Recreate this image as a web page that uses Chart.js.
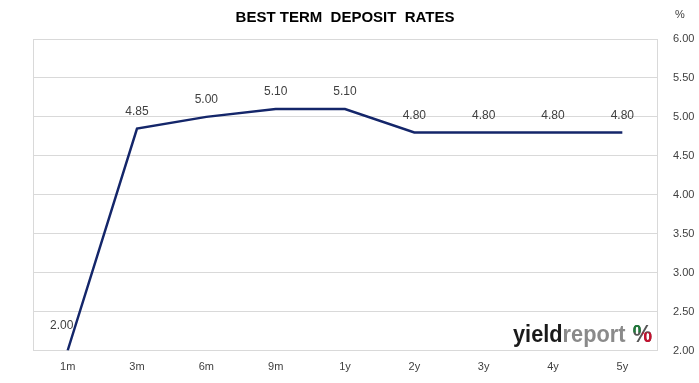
<!DOCTYPE html>
<html>
<head>
<meta charset="utf-8">
<script src="https://cdn.jsdelivr.net/npm/chart.js@4/dist/chart.umd.min.js"></script>
<style>
  html, body { margin: 0; padding: 0; background: #fff; }
  #wrap { width: 699px; height: 383px; position: relative; }
</style>
</head>
<body>
<div id="wrap"><canvas id="c" width="699" height="383"></canvas></div>
<script>
const categories = ['1m', '3m', '6m', '9m', '1y', '2y', '3y', '4y', '5y'];
const rates = [2.00, 4.85, 5.00, 5.10, 5.10, 4.80, 4.80, 4.80, 4.80];
const yTicks = [2.00, 2.50, 3.00, 3.50, 4.00, 4.50, 5.00, 5.50, 6.00];
const titleText = 'BEST TERM  DEPOSIT  RATES';
const unitText = '%';

const FONT = '"Liberation Sans", Arial, sans-serif';
const TEXT = '#404040';
const GRID = '#d9d9d9';
const LINE = '#14266a';

const decor = {
  id: 'decor',
  beforeDatasetsDraw(chart) {
    const { ctx, chartArea: a } = chart;
    ctx.save();
    ctx.strokeStyle = GRID;
    ctx.lineWidth = 1;
    ctx.beginPath();
    ctx.moveTo(Math.round(a.left) + 0.5, a.top);
    ctx.lineTo(Math.round(a.left) + 0.5, a.bottom);
    ctx.stroke();
    ctx.restore();
  },
  afterDatasetsDraw(chart) {
    const { ctx, chartArea: a } = chart;
    const meta = chart.getDatasetMeta(0);
    ctx.save();
    ctx.font = '12px ' + FONT;
    ctx.fillStyle = TEXT;
    ctx.textAlign = 'center';
    ctx.textBaseline = 'middle';
    meta.data.forEach((pt, i) => {
      let x = pt.x, y = pt.y - 17;
      if (i === 0) { x -= 6; y = pt.y - 25; }
      ctx.fillText(rates[i].toFixed(2), x, y);
    });
    // title
    ctx.font = 'bold 15px ' + FONT;
    ctx.fillStyle = '#000';
    ctx.fillText(titleText, 345, 18);
    // unit
    ctx.font = '11px ' + FONT;
    ctx.fillStyle = TEXT;
    ctx.fillText(unitText, 680, 15);

    // logo
    const base = a.bottom - 9;
    const right = a.right - 5;
    const targetW = 139;
    ctx.textBaseline = 'alphabetic';
    ctx.textAlign = 'left';
    ctx.font = 'bold 24px ' + FONT;
    const wY = ctx.measureText('yield').width;
    const wR = ctx.measureText('report').width;
    const wP = ctx.measureText('%').width;
    const gap = 8;
    const total = wY + wR + gap + wP;
    const sx = targetW / total;
    ctx.translate(right - targetW, base);
    ctx.scale(sx, 1);
    ctx.fillStyle = '#1a1a1a';
    ctx.fillText('yield', 0, 0);
    ctx.fillStyle = '#8a8a8a';
    ctx.fillText('report', wY, 0);
    const px = wY + wR + gap;
    ctx.fillStyle = '#555';
    ctx.fillText('%', px, 0);
    ctx.save();
    ctx.beginPath();
    ctx.rect(px - 1, -20, wP * 0.5, 11);
    ctx.clip();
    ctx.fillStyle = '#1e7a3a';
    ctx.fillText('%', px, 0);
    ctx.restore();
    ctx.save();
    ctx.beginPath();
    ctx.rect(px + wP * 0.5, -9, wP * 0.6, 12);
    ctx.clip();
    ctx.fillStyle = '#c8102e';
    ctx.fillText('%', px, 0);
    ctx.restore();
    ctx.restore();
  }
};

new Chart(document.getElementById('c'), {
  type: 'line',
  data: {
    labels: categories,
    datasets: [{
      data: rates,
      borderColor: LINE,
      borderWidth: 2.5,
      pointRadius: 0,
      tension: 0,
      fill: false
    }]
  },
  options: {
    responsive: false,
    animation: false,
    events: [],
    layout: { padding: { top: 39, left: 33, right: 0, bottom: 0 } },
    plugins: { legend: { display: false }, tooltip: { enabled: false } },
    scales: {
      x: {
        offset: true,
        grid: { display: false, drawTicks: false },
        border: { display: true, color: GRID, width: 1 },
        ticks: { font: { size: 11, family: FONT }, color: TEXT, padding: 10, maxRotation: 0 },
        afterFit(s) { s.height = 32.5; }
      },
      y: {
        position: 'right',
        min: 2, max: 6,
        afterBuildTicks(s) { s.ticks = yTicks.map(v => ({ value: v })); },
        grid: { color: GRID, drawTicks: false },
        border: { display: true, color: GRID, width: 1 },
        ticks: {
          font: { size: 11, family: FONT }, color: TEXT, padding: 16,
          callback: v => Number(v).toFixed(2)
        },
        afterFit(s) { s.width = 42; }
      }
    }
  },
  plugins: [decor]
});
</script>
</body>
</html>
